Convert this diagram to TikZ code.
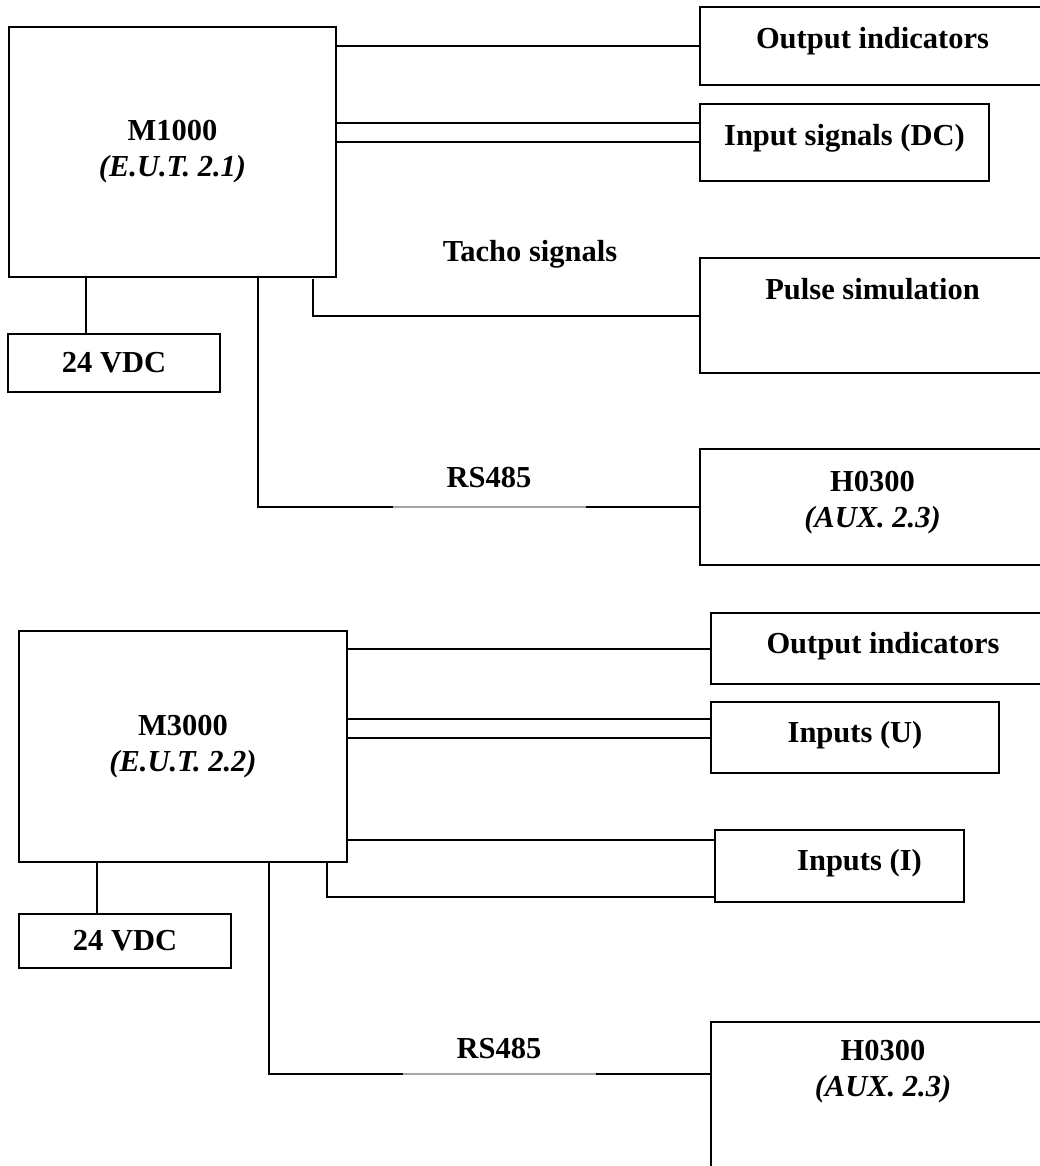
\documentclass[tikz,border=0pt]{standalone}
\usepackage{fontspec}
\setmainfont{Liberation Serif}
\usetikzlibrary{positioning, calc}

\begin{document}
\begin{tikzpicture}[
    x=0.5pt, y=-0.5pt, line width=1pt,
    blk/.style={draw, line width=1pt, inner sep=0pt, outer sep=0pt, anchor=north west, align=center, font=\bfseries\fontsize{15.25}{18}\selectfont},
    txt/.style={inner sep=0pt, align=center, font=\bfseries\fontsize{15.25}{18}\selectfont},
    faint/.style={draw=gray!70, line width=0.6pt},
]
    \useasboundingbox (0,0) rectangle (1039,1166);

    % upper set-up: M1000
    \node[blk, minimum width=163.5pt, minimum height=125pt] (m1) at (9,27) {M1000\\\textit{(E.U.T. 2.1)}};
    \node[blk, minimum width=106pt, minimum height=29pt] (vdc1) at (8,334) {24 VDC};
    \node[blk, minimum width=172.5pt, minimum height=39pt] (out1) at (700,7) {};
    \node[blk, minimum width=144.5pt, minimum height=38.5pt] (dc1) at (700,104) {};
    \node[blk, minimum width=172.5pt, minimum height=57.5pt] (pulse1) at (700,258) {};
    \node[blk, minimum width=172.5pt, minimum height=58pt] (aux1) at (700,449) {};
    \node[txt, below=9.5pt of out1.north] (out1t) {Output indicators};
    \node[txt, below=9.5pt of dc1.north] (dc1t) {Input signals (DC)};
    \node[txt, below=9.5pt of pulse1.north] (pulse1t) {Pulse simulation};
    \node[txt, below=10.5pt of aux1.north] (aux1t) {H0300\\\textit{(AUX. 2.3)}};
    \node[txt] (tacho1) at (530,254) {Tacho signals};
    \node[txt] (rs1) at (489,478) {RS485};

    \coordinate (dc1a) at ([yshift=9.5pt]dc1.west);
    \coordinate (tp1) at ([xshift=-11.5pt, yshift=-1pt]m1.south east);
    \coordinate (vp1) at ([xshift=38.5pt]m1.south west);
    \coordinate (rp1) at ([xshift=124.5pt]m1.south west);
    \coordinate (g1a) at (393,507);
    \coordinate (g1b) at (586,507);

    \draw (out1.west -| m1.east) -- (out1.west);
    \draw (dc1a -| m1.east) -- (dc1a);
    \draw (dc1.west -| m1.east) -- (dc1.west);
    \draw (tp1) |- (pulse1.west);
    \draw (vp1) -- (vp1 |- vdc1.north);
    \draw (rp1) |- (g1a);
    \draw[faint] (g1a) -- (g1b);
    \draw (g1b) -- (aux1.west);

    % lower set-up: M3000
    \node[blk, minimum width=164pt, minimum height=115.5pt] (m2) at (19,631) {M3000\\\textit{(E.U.T. 2.2)}};
    \node[blk, minimum width=106pt, minimum height=27pt] (vdc2) at (19,914) {24 VDC};
    \node[blk, minimum width=172pt, minimum height=35.5pt] (out2) at (711,613) {};
    \node[blk, minimum width=144pt, minimum height=35.5pt] (u2) at (711,702) {};
    \node[blk, minimum width=124.5pt, minimum height=36pt] (i2) at (715,830) {};
    \node[blk, minimum width=172pt, minimum height=80pt] (aux2) at (711,1022) {};
    \node[txt, below=9pt of out2.north] (out2t) {Output indicators};
    \node[txt, below=9pt of u2.north] (u2t) {Inputs (U)};
    \node[txt, below=9pt of i2.north, xshift=10pt] (i2t) {Inputs (I)};
    \node[txt, below=8.5pt of aux2.north] (aux2t) {H0300\\\textit{(AUX. 2.3)}};
    \node[txt] (rs2) at (499,1048) {RS485};

    \coordinate (u2a) at ([yshift=9.25pt]u2.west);
    \coordinate (i2a) at ([yshift=13pt]i2.west);
    \coordinate (i2b) at ([yshift=-15.5pt]i2.west);
    \coordinate (tp2) at ([xshift=-10pt]m2.south east);
    \coordinate (vp2) at ([xshift=39pt]m2.south west);
    \coordinate (rp2) at ([xshift=125pt]m2.south west);
    \coordinate (g2a) at (403,1074);
    \coordinate (g2b) at (596,1074);

    \draw (out2.west -| m2.east) -- (out2.west);
    \draw (u2a -| m2.east) -- (u2a);
    \draw (u2.west -| m2.east) -- (u2.west);
    \draw (i2a -| m2.east) -- (i2a);
    \draw (tp2) |- (i2b);
    \draw (vp2) -- (vp2 |- vdc2.north);
    \draw (rp2) |- (g2a);
    \draw[faint] (g2a) -- (g2b);
    \draw (g2b) -- (g2b -| aux2.west);
\end{tikzpicture}
\end{document}
